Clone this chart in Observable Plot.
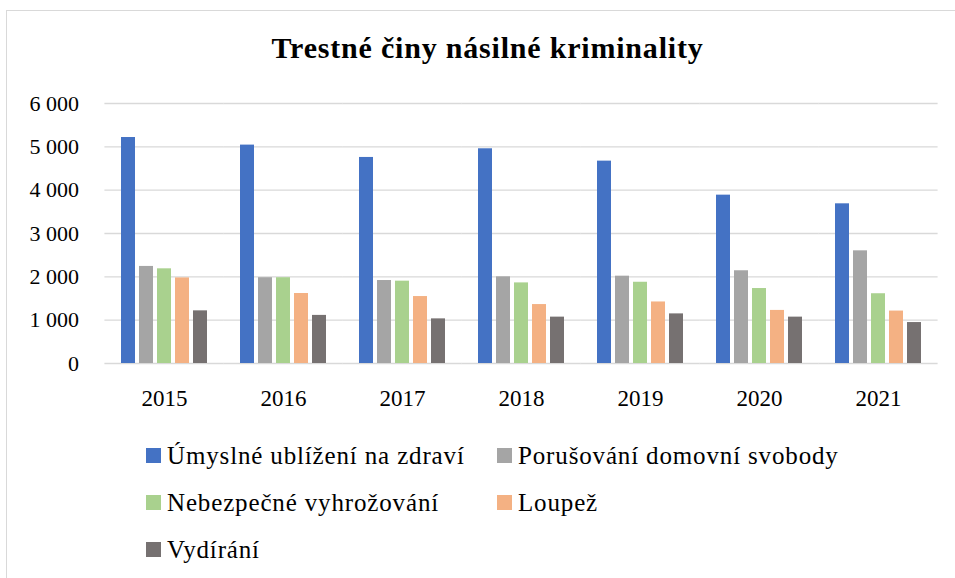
<!DOCTYPE html>
<html>
<head>
<meta charset="utf-8">
<script src="https://cdn.jsdelivr.net/npm/d3@7"></script>
<script src="https://cdn.jsdelivr.net/npm/@observablehq/plot@0.6"></script>
<style>
  body { margin: 0; background: #fff; font-family: "Liberation Serif", serif; }
  #wrap { position: relative; width: 955px; height: 578px; overflow: hidden; }
  #border { position: absolute; left: 6px; top: 10px; width: 980px; height: 600px; border: 1px solid #d9d9d9; box-sizing: border-box; }
  #title { position: absolute; left: 20px; top: 28px; width: 935px; text-align: center; font-family: "Liberation Serif", serif; font-weight: bold; font-size: 30px; letter-spacing: 0.8px; color: #000; line-height: 40px; }
  #plot { position: absolute; left: 0; top: 90px; }
  #plot svg text { font-family: "Liberation Serif", serif; }
  #legend { position: absolute; left: 146px; top: 432px; display: grid; grid-template-columns: 351px 351px; row-gap: 0; }
  .item { display: flex; align-items: center; height: 47px; font-family: "Liberation Serif", serif; font-size: 25px; letter-spacing: 0.85px; color: #000; white-space: nowrap; }
  .sw { width: 15px; height: 15px; margin-right: 6px; flex: none; }
</style>
</head>
<body>
<div id="wrap">
  <div id="border"></div>
  <div id="title">Trestné činy násilné kriminality</div>
  <div id="plot"></div>
  <div id="legend"></div>
</div>
<script>
const years = ["2015", "2016", "2017", "2018", "2019", "2020", "2021"];
const series = ["Úmyslné ublížení na zdraví", "Porušování domovní svobody", "Nebezpečné vyhrožování", "Loupež", "Vydírání"];
const colors = ["#4472C4", "#A5A5A5", "#A9D18E", "#F4B183", "#767171"];
const umyslneUblizeni = [5215, 5040, 4755, 4955, 4670, 3885, 3685];
const porusovaniSvobody = [2240, 1980, 1915, 2000, 2015, 2140, 2600];
const nebezpecneVyhrozovani = [2185, 1980, 1900, 1860, 1875, 1730, 1610];
const loupez = [1975, 1615, 1545, 1360, 1420, 1225, 1210];
const vydirani = [1215, 1110, 1030, 1070, 1145, 1070, 945];
const yTicks = [0, 1000, 2000, 3000, 4000, 5000, 6000];

const valueArrays = [umyslneUblizeni, porusovaniSvobody, nebezpecneVyhrozovani, loupez, vydirani];
const data = [];
years.forEach((yr, i) => series.forEach((s, j) => data.push({year: yr, series: s, value: valueArrays[j][i]})));

const fmt = d => d3.format(",")(d).replace(/,/g, "\u00a0");

const chart = Plot.plot({
  width: 955,
  height: 330,
  marginTop: 13,
  marginBottom: 57,
  marginLeft: 104,
  marginRight: 17,
  style: { fontFamily: "Liberation Serif, serif", fontSize: "22px", color: "#000", background: "transparent" },
  fx: { domain: years, paddingInner: 0.26, paddingOuter: 0.13, label: null, axis: null },
  x: { domain: series, paddingInner: 0.2, paddingOuter: 0, axis: null },
  y: { domain: [0, 6000], label: null, axis: null },
  color: { domain: series, range: colors },
  marks: [
    Plot.ruleY(yTicks, { stroke: "#d9d9d9", strokeWidth: 1.3, insetLeft: -15.6, insetRight: -15.6 }),
    Plot.barY(data, { fx: "year", x: "series", y: "value", fill: "series" }),
    Plot.axisY(yTicks, { tickSize: 0, tickPadding: 41.5, tickFormat: fmt, fontSize: 22, label: null, fill: "#000" }),
    Plot.axisFx({ anchor: "bottom", tickSize: 0, tickPadding: 26, fontSize: 23, label: null, fill: "#000" })
  ]
});
document.getElementById("plot").appendChild(chart);

const legend = document.getElementById("legend");
series.forEach((s, i) => {
  const it = document.createElement("div");
  it.className = "item";
  const sw = document.createElement("span");
  sw.className = "sw";
  sw.style.background = colors[i];
  it.appendChild(sw);
  it.appendChild(document.createTextNode(s));
  legend.appendChild(it);
});
</script>
</body>
</html>
